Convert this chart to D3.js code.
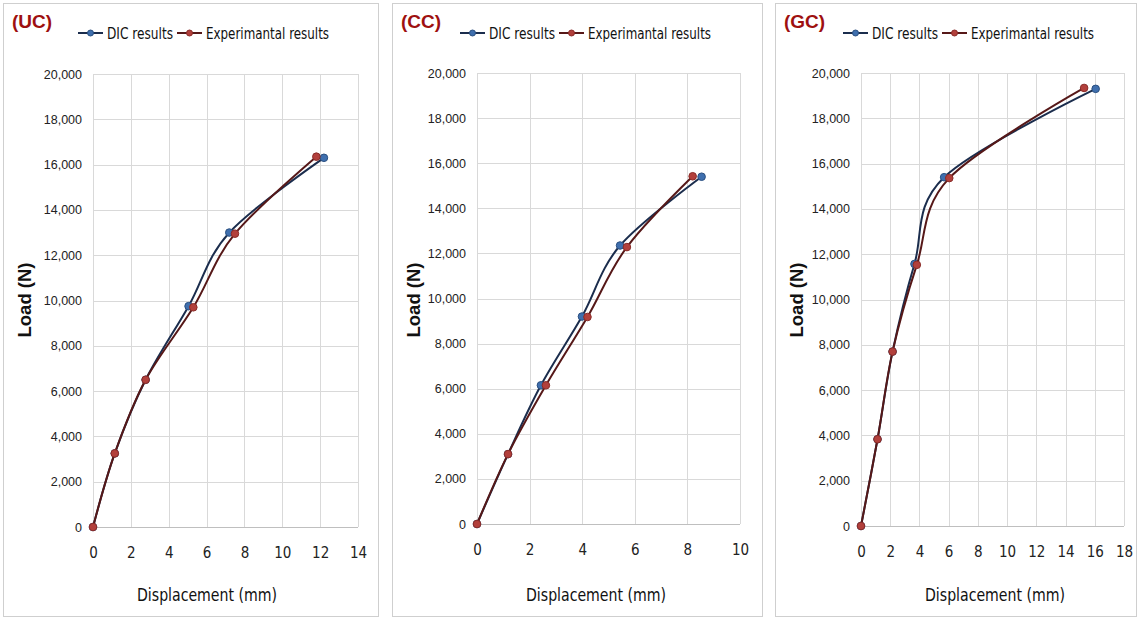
<!DOCTYPE html>
<html>
<head>
<meta charset="utf-8">
<script src="https://cdn.jsdelivr.net/npm/d3@7"></script>
<style>
  body { margin: 0; background: #fff; }
  svg { display: block; }
</style>
</head>
<body>
<div id="chart"></div>
<script>
// load (N) against displacement (mm), three specimens
var panelNames = ["(UC)", "(CC)", "(GC)"];
var seriesNames = ["DIC results", "Experimantal results"];

var ucDicX = [0, 1.15, 2.78, 5.05, 7.2, 12.2];
var ucDicY = [0, 3250, 6500, 9750, 13000, 16300];
var ucExpX = [0, 1.15, 2.78, 5.3, 7.5, 11.8];
var ucExpY = [0, 3250, 6500, 9700, 12950, 16350];

var ccDicX = [0, 1.18, 2.43, 3.99, 5.44, 8.54];
var ccDicY = [0, 3100, 6150, 9200, 12350, 15400];
var ccExpX = [0, 1.18, 2.62, 4.2, 5.7, 8.2];
var ccExpY = [0, 3100, 6150, 9180, 12280, 15420];

var gcDicX = [0, 1.13, 2.16, 3.66, 5.69, 16.06];
var gcDicY = [0, 3830, 7700, 11570, 15400, 19300];
var gcExpX = [0, 1.13, 2.16, 3.82, 6.04, 15.27];
var gcExpY = [0, 3830, 7700, 11530, 15360, 19340];

var xMax = [14, 10, 18];
var yTicks = [0, 2000, 4000, 6000, 8000, 10000, 12000, 14000, 16000, 18000, 20000];

var width = 1138, height = 619;
var svg = d3.select("#chart").append("svg")
    .attr("width", width)
    .attr("height", height);

// frame and plot box of each panel
var panels = [
    { frame: [3, 378], plot: [93, 358, 74, 527], legend: 78, title: 207 },
    { frame: [392, 762], plot: [477, 740, 73, 524], legend: 460, title: 596 },
    { frame: [775, 1136], plot: [861, 1124, 73, 526], legend: 843, title: 995 }
];
var data = [
    [[ucDicX, ucDicY], [ucExpX, ucExpY]],
    [[ccDicX, ccDicY], [ccExpX, ccExpY]],
    [[gcDicX, gcDicY], [gcExpX, gcExpY]]
];

var lineColors = ["#1b2d4d", "#561818"];
var dotColors = ["#3f6fae", "#b2403c"];
var dotStroke = ["#2a4f80", "#8a2b28"];

var narrow = "'Liberation Sans Narrow', 'DejaVu Sans Condensed', Arial, sans-serif";
var sans = "'Liberation Sans', Arial, sans-serif";

panels.forEach(function (p, i) {
    var g = svg.append("g");
    var left = p.plot[0], right = p.plot[1], top = p.plot[2], bottom = p.plot[3];

    g.append("rect")
        .attr("x", p.frame[0] + 0.5).attr("y", 3.5)
        .attr("width", p.frame[1] - p.frame[0]).attr("height", 613)
        .attr("fill", "#fff")
        .attr("stroke", "#cfcfcf");

    var x = d3.scaleLinear().domain([0, xMax[i]]).range([left, right]);
    var y = d3.scaleLinear().domain([0, 20000]).range([bottom, top]);
    var xTicks = d3.range(0, xMax[i] + 1, 2);

    // grid
    g.append("g").selectAll("line").data(xTicks).enter().append("line")
        .attr("x1", function (d) { return Math.round(x(d)) + 0.5; })
        .attr("x2", function (d) { return Math.round(x(d)) + 0.5; })
        .attr("y1", top).attr("y2", bottom)
        .attr("stroke", "#d9d9d9");
    g.append("g").selectAll("line").data(yTicks).enter().append("line")
        .attr("x1", left).attr("x2", right)
        .attr("y1", function (d) { return Math.round(y(d)) + 0.5; })
        .attr("y2", function (d) { return Math.round(y(d)) + 0.5; })
        .attr("stroke", function (d) { return d === 0 ? "#bfbfbf" : "#d9d9d9"; });

    var yAxis = g.append("g")
        .attr("transform", "translate(" + left + ",0)")
        .call(d3.axisLeft(y).tickValues(yTicks).tickSize(0).tickPadding(11)
            .tickFormat(function (d) { return d === 0 ? "0" : d3.format(",")(d); }));
    yAxis.select(".domain").remove();
    yAxis.selectAll("text")
        .style("font-family", sans).style("font-size", "12.5px").attr("fill", "#222");

    var xAxis = g.append("g")
        .attr("transform", "translate(0," + bottom + ")")
        .call(d3.axisBottom(x).tickValues(xTicks).tickSize(0).tickPadding(20));
    xAxis.select(".domain").remove();
    xAxis.selectAll("text")
        .style("font-family", narrow).style("font-size", "15px").attr("fill", "#222");

    // series
    var line = d3.line()
        .x(function (d) { return x(d[0]); })
        .y(function (d) { return y(d[1]); })
        .curve(d3.curveCardinal.tension(0));

    data[i].forEach(function (s, k) {
        var pts = s[0].map(function (v, j) { return [v, s[1][j]]; });
        g.append("path")
            .datum(pts)
            .attr("d", line)
            .attr("fill", "none")
            .attr("stroke", lineColors[k])
            .attr("stroke-width", 2);
        g.append("g").selectAll("circle").data(pts).enter().append("circle")
            .attr("cx", function (d) { return x(d[0]); })
            .attr("cy", function (d) { return y(d[1]); })
            .attr("r", 3.8)
            .attr("fill", dotColors[k])
            .attr("stroke", dotStroke[k])
            .attr("stroke-width", 1);
    });

    // panel tag
    g.append("text")
        .attr("x", p.frame[0] + 9).attr("y", 28)
        .style("font-family", sans).style("font-size", "19px").style("font-weight", "bold")
        .attr("fill", "#9e1010")
        .text(panelNames[i]);

    // legend
    var ly = 33;
    var textW = [66, 123];
    var cur = p.legend;
    seriesNames.forEach(function (name, k) {
        g.append("line")
            .attr("x1", cur).attr("x2", cur + 25)
            .attr("y1", ly).attr("y2", ly)
            .attr("stroke", lineColors[k]).attr("stroke-width", 2);
        g.append("circle")
            .attr("cx", cur + 12.5).attr("cy", ly).attr("r", 3)
            .attr("fill", dotColors[k]).attr("stroke", dotStroke[k]);
        g.append("text")
            .attr("x", cur + 29).attr("y", ly + 6)
            .attr("textLength", textW[k]).attr("lengthAdjust", "spacingAndGlyphs")
            .style("font-family", narrow).style("font-size", "15px").attr("fill", "#111")
            .text(name);
        cur += 29 + textW[k] + 4;
    });

    // axis titles
    g.append("text")
        .attr("x", p.title).attr("y", 601)
        .attr("text-anchor", "middle")
        .attr("textLength", 140).attr("lengthAdjust", "spacingAndGlyphs")
        .style("font-family", narrow).style("font-size", "17px").attr("fill", "#111")
        .text("Displacement (mm)");
    g.append("text")
        .attr("transform", "translate(" + (p.frame[0] + 28) + ",300) rotate(-90)")
        .attr("text-anchor", "middle")
        .style("font-family", sans).style("font-size", "18.5px").style("font-weight", "bold")
        .attr("fill", "#111")
        .text("Load  (N)");
});
</script>
</body>
</html>
